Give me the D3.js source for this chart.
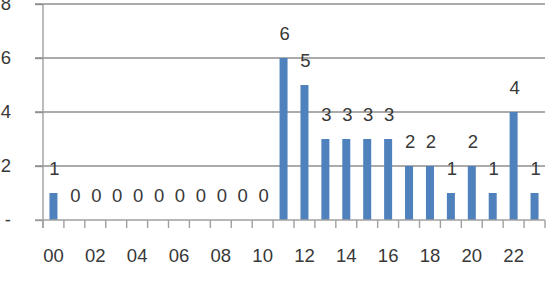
<!DOCTYPE html>
<html><head><meta charset="utf-8">
<script src="https://cdn.jsdelivr.net/npm/d3@7"></script>
<style>body{margin:0;background:#fff}svg{display:block}</style>
</head><body><svg id="c" width="553" height="306"></svg>
<script>
const hours = ["00","01","02","03","04","05","06","07","08","09","10","11","12","13","14","15","16","17","18","19","20","21","22","23"];
const counts = [1,0,0,0,0,0,0,0,0,0,0,6,5,3,3,3,3,2,2,1,2,1,4,1];
const yTicks = [0,2,4,6,8];
const yTickLabels = ["-","2","4","6","8"];
const xTickLabels = ["00","02","04","06","08","10","12","14","16","18","20","22"];

const svg = d3.select("#c");
const m = {l:43, r:8};
const W = 553;
const fs = "18.5px";
const xb = d3.scaleBand().domain(hours).range([m.l, W - m.r]);
const y = d3.scaleLinear().domain([0,8]).range([220, 4]);
const font = "'Liberation Sans', Arial, sans-serif";
const txt = "#383838";

// gridlines
svg.append("g").selectAll("line").data(yTicks.filter(d=>d>0)).join("line")
  .attr("x1", m.l - 8).attr("x2", W - m.r)
  .attr("y1", d=>y(d)).attr("y2", d=>y(d))
  .attr("stroke", "#8f8f8f").attr("stroke-width", 1.4);

// y axis
const yAxis = d3.axisLeft(y).tickValues(yTicks).tickSize(8).tickFormat((d,i)=>yTickLabels[i]);
const gy = svg.append("g").attr("transform", `translate(${m.l},0)`).call(yAxis);
gy.select(".domain").attr("stroke","#a0a0a0").attr("stroke-width",1.4).attr("d", `M0,${y(8)}V${y(0)+8}`);
gy.selectAll(".tick line").attr("stroke","#8f8f8f").attr("stroke-width",1.4);
gy.selectAll(".tick text").attr("x", -32).attr("text-anchor","end")
  .style("font-family", font).style("font-size", fs).attr("fill", txt);

// bars
svg.append("g").selectAll("rect").data(counts).join("rect")
  .attr("x", (d,i)=>xb(hours[i]) + (xb.bandwidth()-8)/2)
  .attr("width", 8)
  .attr("y", d=>y(d)).attr("height", d=>y(0)-y(d))
  .attr("fill", "#4f81bd");

// x axis
const xAxis = d3.axisBottom(xb).tickSize(0).tickFormat(d => xTickLabels.includes(d) ? d : "");
const gx = svg.append("g").attr("transform", `translate(0,${y(0)})`).call(xAxis);
gx.select(".domain").attr("stroke","#a0a0a0").attr("stroke-width",1.4).attr("d", `M${m.l-8},0H${W-m.r}`);
gx.selectAll(".tick text").attr("y", 28.5)
  .style("font-family", font).style("font-size", fs).attr("fill", txt);
// boundary ticks
svg.append("g").selectAll("line").data(hours.concat(["end"])).join("line")
  .attr("x1", (d,i)=> m.l + i*xb.bandwidth()).attr("x2", (d,i)=> m.l + i*xb.bandwidth())
  .attr("y1", y(0)).attr("y2", y(0)+8)
  .attr("stroke","#a0a0a0").attr("stroke-width",1.4);

// data labels
svg.append("g").selectAll("text").data(counts).join("text")
  .attr("x", (d,i)=>xb(hours[i]) + xb.bandwidth()/2 + 1)
  .attr("y", d=>y(d) - 18)
  .attr("text-anchor","middle")
  .style("font-family", font).style("font-size", fs).attr("fill", txt)
  .text(d=>d);
</script></body></html>
